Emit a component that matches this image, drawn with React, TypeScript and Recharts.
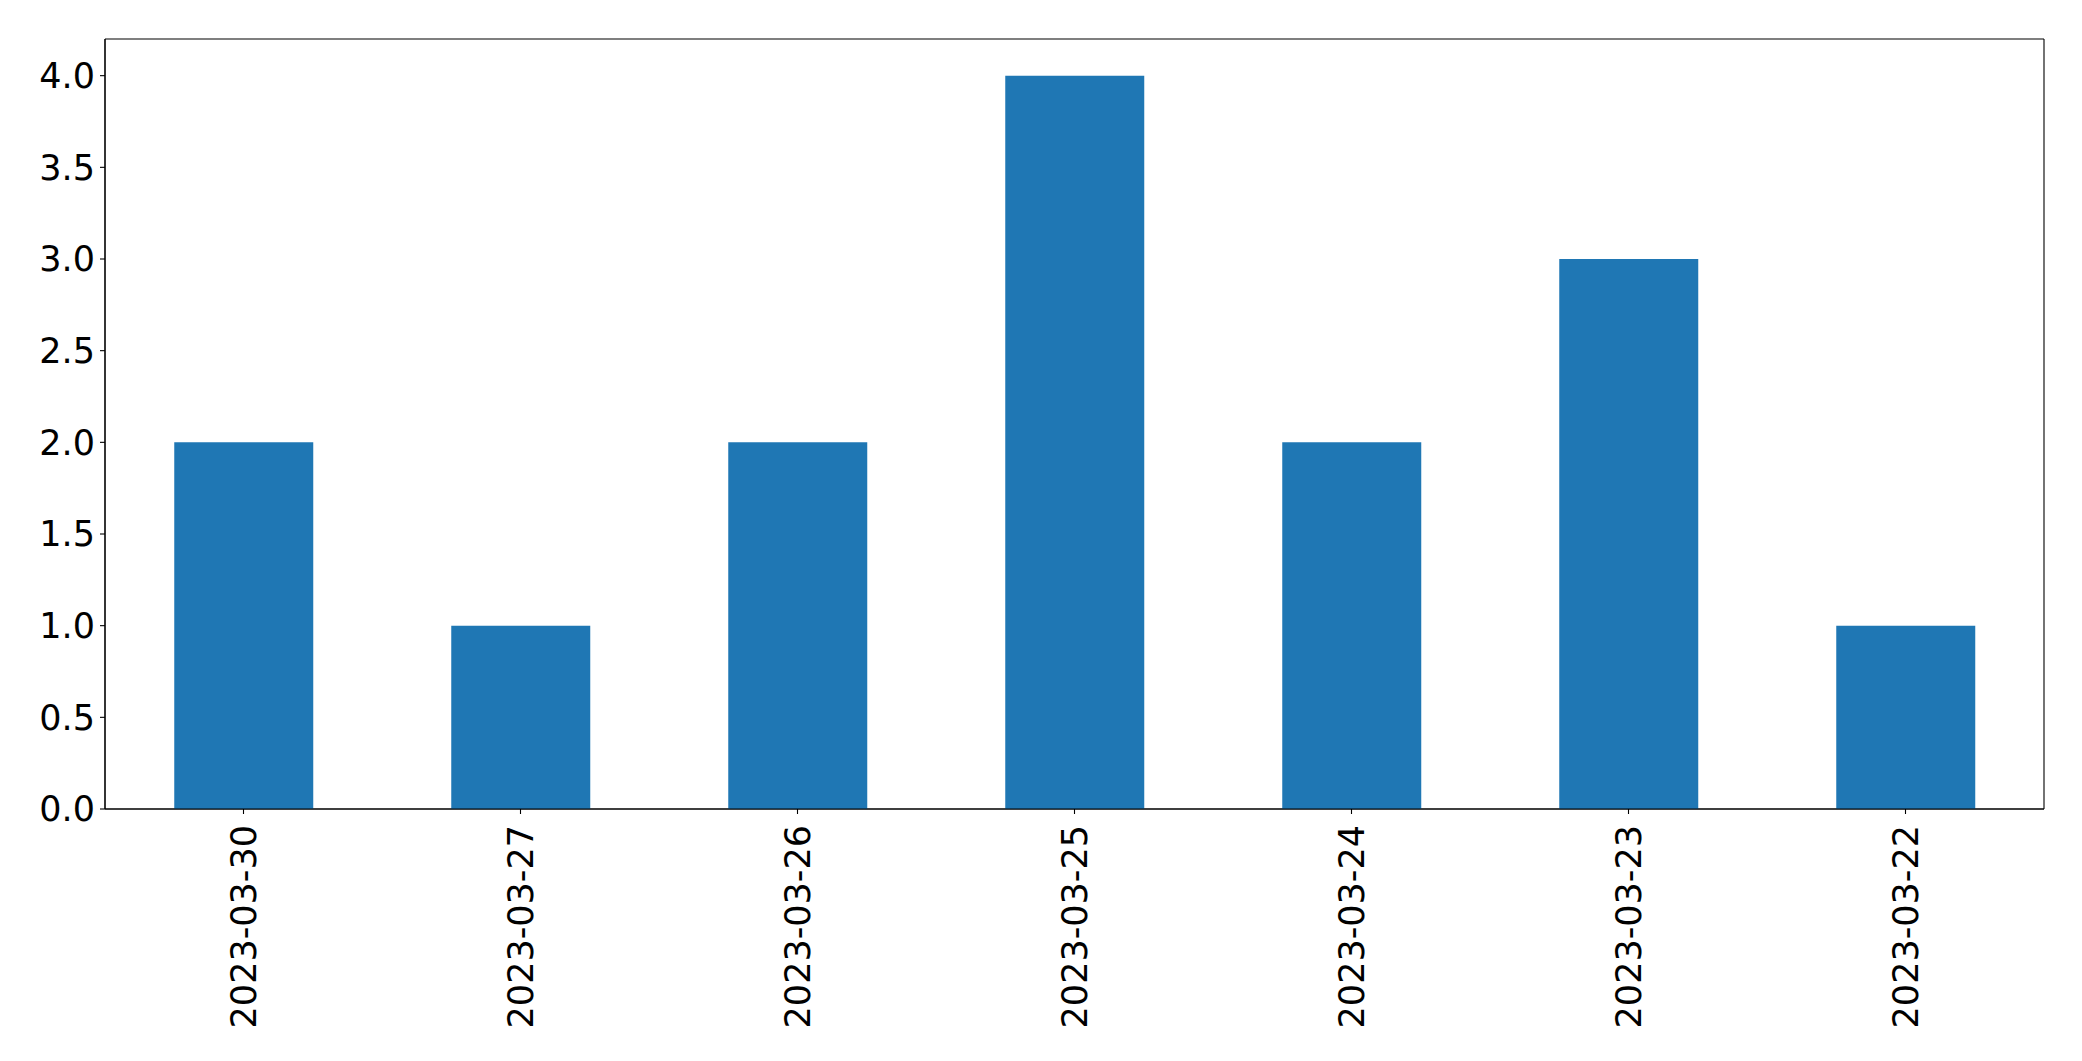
import { Bar, BarChart, CartesianGrid, XAxis, YAxis } from 'recharts';

const dates = ['2023-03-30', '2023-03-27', '2023-03-26', '2023-03-25', '2023-03-24', '2023-03-23', '2023-03-22'];
const counts = [2, 1, 2, 4, 2, 3, 1];
const yTicks = [0, 0.5, 1, 1.5, 2, 2.5, 3, 3.5, 4];

const data = dates.map((date, i) => ({ date, count: counts[i] }));

const font = 'DejaVu Sans, sans-serif';

function DateTick(props: any) {
  const { x, y, payload } = props;
  return (
    <text
      transform={`translate(${x},${y + 11}) rotate(-90)`}
      textAnchor="end"
      dominantBaseline="central"
      fontFamily={font}
      fontSize={35}
      fill="#000"
    >
      {payload.value}
    </text>
  );
}

// frame around the plot area, drawn as grid lines on its four edges
const frameRows = ({ offset }: any) => [offset.top, offset.top + offset.height];
const frameCols = ({ offset }: any) => [offset.left, offset.left + offset.width];

export default function App() {
  return (
    <div style={{ position: 'absolute', left: 0, top: 0, width: 2082, height: 1061, background: '#fff' }}>
      <BarChart
        width={2082}
        height={1061}
        data={data}
        margin={{ top: 39, right: 38, bottom: 0, left: 0 }}
        barCategoryGap="25%"
      >
        <CartesianGrid
          stroke="#000"
          strokeWidth={1.1}
          horizontalCoordinatesGenerator={frameRows}
          verticalCoordinatesGenerator={frameCols}
        />
        <XAxis
          dataKey="date"
          height={252}
          interval={0}
          tick={<DateTick />}
          tickSize={5}
          tickMargin={0}
          axisLine={{ stroke: '#000', strokeWidth: 1.1 }}
          tickLine={{ stroke: '#000', strokeWidth: 1.1 }}
        />
        <YAxis
          width={105}
          domain={[0, 4.2]}
          ticks={yTicks}
          tickFormatter={(v: number) => v.toFixed(1)}
          tick={{ fontFamily: font, fontSize: 35, fill: '#000' }}
          tickSize={5}
          tickMargin={5}
          axisLine={{ stroke: '#000', strokeWidth: 1.1 }}
          tickLine={{ stroke: '#000', strokeWidth: 1.1 }}
        />
        <Bar dataKey="count" fill="#1f77b4" isAnimationActive={false} />
      </BarChart>
    </div>
  );
}
